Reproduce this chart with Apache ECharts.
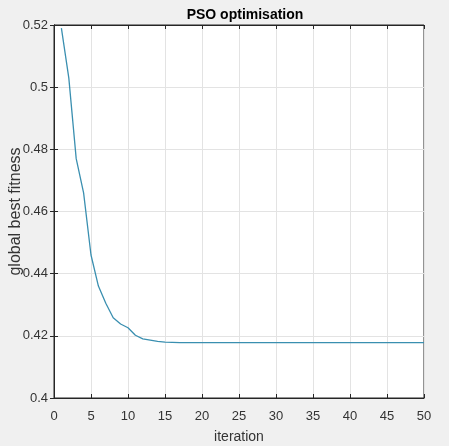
<!DOCTYPE html>
<html>
<head>
<meta charset="utf-8">
<script src="https://cdn.jsdelivr.net/npm/echarts@6/dist/echarts.min.js"></script>
<style>
html,body{margin:0;padding:0;background:#f0f0f0;}
#chart{width:449px;height:446px;}
</style>
</head>
<body>
<div id="chart"></div>
<script>
const iterations = [1,2,3,4,5,6,7,8,9,10,11,12,13,14,15,16,17,18,19,20,21,22,23,24,25,26,27,28,29,30,31,32,33,34,35,36,37,38,39,40,41,42,43,44,45,46,47,48,49,50];
const fitness = [0.519,0.503,0.477,0.466,0.446,0.436,0.4305,0.4258,0.4238,0.4226,0.4202,0.4190,0.4186,0.4182,0.4180,0.4179,0.4178,0.4178,0.4178,0.4178,0.4178,0.4178,0.4178,0.4178,0.4178,0.4178,0.4178,0.4178,0.4178,0.4178,0.4178,0.4178,0.4178,0.4178,0.4178,0.4178,0.4178,0.4178,0.4178,0.4178,0.4178,0.4178,0.4178,0.4178,0.4178,0.4178,0.4178,0.4178,0.4178,0.4178];
const xTicks = {min:0, max:50, interval:5};
const yTicks = {min:0.4, max:0.52, interval:0.02};

const chart = echarts.init(document.getElementById('chart'));
const font = 'Liberation Sans, Arial, sans-serif';
const lbl = {color:'#333333', fontSize:13, fontFamily:font};
const gridLine = {show:true, lineStyle:{color:'#e3e3e3', width:1}};
chart.setOption({
  backgroundColor:'#f0f0f0',
  animation:false,
  title:{text:'PSO optimisation', left:240, top:3, textAlign:'center',
    textStyle:{fontFamily:font, fontSize:14, fontWeight:'bold', color:'#000'}},
  grid:{left:54, right:25, top:25, bottom:48, show:true, backgroundColor:'#fff', borderColor:'#262626', borderWidth:1,
    containLabel:false, outerBoundsMode:'none'},
  xAxis:[{
    type:'value', min:xTicks.min, max:xTicks.max, interval:xTicks.interval,
    name:'iteration', nameLocation:'middle', nameGap:32, nameMoveOverlap:false,
    nameTextStyle:{fontFamily:font, fontSize:14, color:'#333333'},
    axisLine:{show:true, lineStyle:{color:'#262626'}},
    axisTick:{show:true, inside:true, length:4, lineStyle:{color:'#262626'}},
    axisLabel:Object.assign({margin:12}, lbl),
    splitLine:gridLine
  },{
    type:'value', position:'top', min:xTicks.min, max:xTicks.max, interval:xTicks.interval,
    axisLine:{show:true, lineStyle:{color:'#262626'}},
    axisTick:{show:true, inside:true, length:4, lineStyle:{color:'#262626'}},
    axisLabel:{show:false}, splitLine:{show:false}
  }],
  yAxis:[{
    type:'value', min:yTicks.min, max:yTicks.max, interval:yTicks.interval,
    name:'global best fitness', nameLocation:'middle', nameGap:30, nameMoveOverlap:false,
    nameTextStyle:{fontFamily:font, fontSize:16, color:'#333333'},
    axisLine:{show:true, lineStyle:{color:'#262626'}},
    axisTick:{show:true, inside:true, length:4, lineStyle:{color:'#262626'}},
    axisLabel:Object.assign({margin:6, formatter:v=>String(parseFloat(v.toFixed(2)))}, lbl),
    splitLine:gridLine
  },{
    type:'value', position:'right', min:yTicks.min, max:yTicks.max, interval:yTicks.interval,
    axisLine:{show:true, lineStyle:{color:'#262626'}},
    axisTick:{show:true, inside:true, length:4, lineStyle:{color:'#262626'}},
    axisLabel:{show:false}, splitLine:{show:false}
  }],
  series:[{
    type:'line', xAxisIndex:0, yAxisIndex:0,
    data:iterations.map((x,i)=>[x, fitness[i]]),
    showSymbol:false, symbol:'none',
    lineStyle:{color:'#3a8fb0', width:1.3},
    itemStyle:{color:'#3a8fb0'}
  }]
});
</script>
</body>
</html>
